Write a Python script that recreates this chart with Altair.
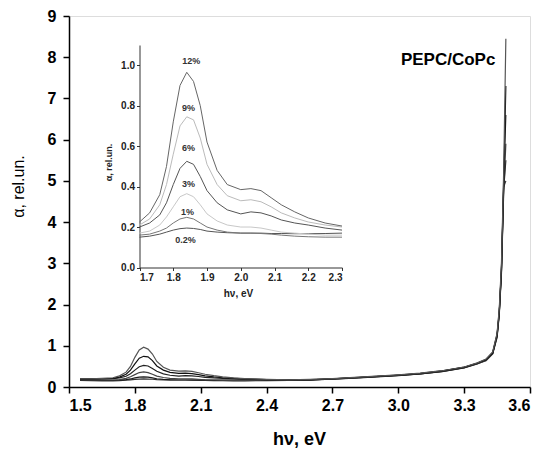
import altair as alt
import pandas as pd

SERIES = ["0.2%", "1%", "3%", "6%", "9%", "12%"]

X = [1.55, 1.60, 1.65, 1.70, 1.73, 1.76, 1.78, 1.80, 1.82, 1.84, 1.86, 1.88, 1.90,
     1.93, 1.96, 2.00, 2.03, 2.06, 2.09, 2.12, 2.16, 2.20, 2.25, 2.30, 2.40, 2.50,
     2.60, 2.70, 2.80, 2.90, 3.00, 3.10, 3.20, 3.30, 3.36, 3.40, 3.43, 3.45, 3.46,
     3.47, 3.48, 3.49]

Y_12 = [0.20, 0.20, 0.21, 0.225, 0.27, 0.36, 0.50, 0.72, 0.90, 0.965, 0.92, 0.80, 0.62,
        0.48, 0.41, 0.385, 0.39, 0.38, 0.345, 0.31, 0.275, 0.245, 0.22, 0.205, 0.185, 0.175,
        0.185, 0.205, 0.235, 0.265, 0.295, 0.335, 0.395, 0.485, 0.585, 0.68, 0.85, 1.30, 1.90,
        3.00, 5.20, 8.45]
Y_9 = [0.20, 0.20, 0.20, 0.21, 0.24, 0.31, 0.41, 0.56, 0.70, 0.745, 0.73, 0.64, 0.51,
       0.41, 0.355, 0.33, 0.335, 0.325, 0.30, 0.27, 0.245, 0.225, 0.21, 0.20, 0.18, 0.17,
       0.18, 0.20, 0.23, 0.26, 0.29, 0.33, 0.39, 0.48, 0.58, 0.66, 0.82, 1.25, 1.80,
       2.85, 4.90, 7.30]
Y_6 = [0.19, 0.19, 0.195, 0.20, 0.22, 0.26, 0.32, 0.41, 0.49, 0.525, 0.51, 0.45, 0.38,
       0.32, 0.285, 0.265, 0.275, 0.27, 0.255, 0.235, 0.22, 0.21, 0.195, 0.185, 0.17, 0.165,
       0.175, 0.195, 0.225, 0.255, 0.285, 0.325, 0.385, 0.475, 0.575, 0.67, 0.84, 1.28, 1.85,
       2.90, 5.00, 6.60]
Y_3 = [0.18, 0.175, 0.17, 0.17, 0.18, 0.21, 0.25, 0.30, 0.35, 0.365, 0.35, 0.31, 0.265,
       0.23, 0.21, 0.20, 0.20, 0.195, 0.185, 0.175, 0.17, 0.165, 0.16, 0.16, 0.16, 0.16,
       0.17, 0.19, 0.22, 0.25, 0.28, 0.32, 0.38, 0.47, 0.565, 0.64, 0.80, 1.20, 1.75,
       2.75, 4.70, 5.90]
Y_1 = [0.17, 0.165, 0.16, 0.16, 0.165, 0.18, 0.195, 0.22, 0.24, 0.248, 0.24, 0.22, 0.20,
       0.185, 0.175, 0.17, 0.17, 0.168, 0.165, 0.16, 0.155, 0.152, 0.15, 0.15, 0.155, 0.16,
       0.17, 0.19, 0.215, 0.245, 0.275, 0.315, 0.375, 0.465, 0.56, 0.65, 0.81, 1.22, 1.78,
       2.80, 4.80, 5.50]
Y_02 = [0.16, 0.155, 0.15, 0.15, 0.155, 0.165, 0.175, 0.185, 0.192, 0.195, 0.193, 0.188, 0.18,
        0.175, 0.172, 0.17, 0.17, 0.17, 0.168, 0.168, 0.167, 0.167, 0.168, 0.17, 0.165, 0.165,
        0.175, 0.195, 0.22, 0.25, 0.28, 0.32, 0.38, 0.47, 0.57, 0.65, 0.82, 1.24, 1.80,
        2.82, 4.85, 5.00]

VALUES = [Y_02, Y_1, Y_3, Y_6, Y_9, Y_12]

MAIN_COLORS = ["#333333", "#1a1a1a", "#444444", "#222222", "#111111", "#555555"]
INSET_COLORS = ["#555555", "#777777", "#c8c8c8", "#555555", "#bbbbbb", "#666666"]

# inset percent labels (inset data coordinates)
LABEL_TEXT = ["12%", "9%", "6%", "3%", "1%", "0.2%"]
LABEL_X = [1.853, 1.845, 1.845, 1.845, 1.842, 1.836]
LABEL_Y = [1.02, 0.79, 0.59, 0.415, 0.274, 0.136]

MAIN_XTICKS = [1.5, 1.65, 1.8, 1.95, 2.1, 2.25, 2.4, 2.55, 2.7, 2.85, 3.0, 3.15, 3.3, 3.45, 3.6]
MAIN_YTICKS = [0, 0.5, 1, 1.5, 2, 2.5, 3, 3.5, 4, 4.5, 5, 5.5, 6, 6.5, 7, 7.5, 8, 8.5, 9]
INSET_XTICKS = [1.7, 1.75, 1.8, 1.85, 1.9, 1.95, 2.0, 2.05, 2.1, 2.15, 2.2, 2.25, 2.3]
INSET_YTICKS = [0.0, 0.1, 0.2, 0.3, 0.4, 0.5, 0.6, 0.7, 0.8, 0.9, 1.0, 1.1]

TITLE_TEXT = ["PEPC/CoPc"]
TITLE_X = [3.227]
TITLE_Y = [7.93]

rows = []
for s, ys in zip(SERIES, VALUES):
    for x, y in zip(X, ys):
        rows.append({"x": x, "y": y, "series": s})
df = pd.DataFrame(rows)
df_inset = df[(df["x"] >= 1.7) & (df["x"] <= 2.3)]
df_labels = pd.DataFrame({"x": LABEL_X, "y": LABEL_Y, "label": LABEL_TEXT})
df_title = pd.DataFrame({"x": TITLE_X, "y": TITLE_Y, "label": TITLE_TEXT})

FONT = "Liberation Sans"

main_x = alt.X("x:Q", scale=alt.Scale(domain=[1.5, 3.6], nice=False, zero=False),
               axis=alt.Axis(values=MAIN_XTICKS, orient="bottom",
                             labelExpr="round(datum.value*100) % 30 == 0 ? format(datum.value, '.1f') : ''",
                             tickSize={"condition": {"test": "round(datum.value*100) % 30 != 0", "value": 3}, "value": 6},
                             tickColor="black", tickWidth=1.5, domainColor="black", domainWidth=1.5,
                             labelFont=FONT, labelFontSize=16, labelFontWeight="bold", labelColor="black",
                             labelPadding=4, grid=False,
                             title="hν, eV", titleFont=FONT, titleFontSize=18, titleFontWeight="bold",
                             titleColor="black", titleX=230, titleY=52, titleBaseline="middle"))
main_y = alt.Y("y:Q", scale=alt.Scale(domain=[0, 9], nice=False),
               axis=alt.Axis(values=MAIN_YTICKS, orient="left",
                             labelExpr="datum.value % 1 == 0 ? format(datum.value, 'd') : ''",
                             tickSize={"condition": {"test": "datum.value % 1 != 0", "value": 3}, "value": 6},
                             tickColor="black", tickWidth=1.5, domainColor="black", domainWidth=1.5,
                             labelFont=FONT, labelFontSize=16, labelFontWeight="bold", labelColor="black",
                             labelPadding=7, grid=False,
                             title="α, rel.un.", titleFont=FONT, titleFontSize=16, titleFontWeight="normal",
                             titleColor="black", titleX=-51, titleY=170, titleBaseline="middle"))

main_lines = alt.Chart(df).mark_line(strokeWidth=1.2).encode(
    x=main_x, y=main_y,
    color=alt.Color("series:N", scale=alt.Scale(domain=SERIES, range=MAIN_COLORS), legend=None),
)
title_text = alt.Chart(df_title).mark_text(font=FONT, fontSize=17, fontWeight="bold", color="black").encode(
    x="x:Q", y="y:Q", text="label:N")
main_layer = alt.layer(main_lines, title_text)

inset_x = alt.X("x:Q", scale=alt.Scale(domain=[1.7, 2.3], range=[70.5, 273], nice=False, zero=False),
                axis=alt.Axis(values=INSET_XTICKS, orient="bottom", offset=-119.5,
                              labelExpr="round(datum.value*100) % 10 == 0 ? format(datum.value, '.1f') : ''",
                              tickSize={"condition": {"test": "round(datum.value*100) % 10 != 0", "value": 2}, "value": 3},
                              tickColor="#333333", domainColor="#333333",
                              labelFont=FONT, labelFontSize=10, labelFontWeight="bold", labelColor="#222222",
                              labelPadding=2, grid=False,
                              title="hν, eV", titleFont=FONT, titleFontSize=10, titleFontWeight="bold",
                              titleColor="#222222", titleX=169, titleY=26, titleBaseline="middle"))
inset_y = alt.Y("y:Q", scale=alt.Scale(domain=[0, 1.1], range=[251.5, 29], nice=False),
                axis=alt.Axis(values=INSET_YTICKS, orient="left", offset=-70.5,
                              labelExpr="round(datum.value*10) % 2 == 0 && datum.value < 1.05 ? format(datum.value, '.1f') : ''",
                              tickSize={"condition": {"test": "round(datum.value*10) % 2 != 0", "value": 2}, "value": 3},
                              tickColor="#333333", domainColor="#333333",
                              labelFont=FONT, labelFontSize=10, labelFontWeight="bold", labelColor="#222222",
                              labelPadding=2, grid=False,
                              title="α, rel.un.", titleFont=FONT, titleFontSize=9, titleFontWeight="bold",
                              titleColor="#222222", titleX=-31.5, titleY=146, titleBaseline="middle"))

inset_lines = alt.Chart(df_inset).mark_line(strokeWidth=1).encode(
    x=inset_x, y=inset_y,
    color=alt.Color("series:N", scale=alt.Scale(domain=SERIES, range=INSET_COLORS), legend=None),
)
inset_text = alt.Chart(df_labels).mark_text(font=FONT, fontSize=9, fontWeight="bold", color="#333333").encode(
    x="x:Q", y="y:Q", text="label:N")
inset_layer = alt.layer(inset_lines, inset_text)

chart = alt.layer(main_layer, inset_layer).resolve_scale(
    x="independent", y="independent", color="independent"
).properties(
    width=461, height=371,
    autosize=alt.AutoSizeParams(type="none"),
    padding={"left": 61, "top": 8, "right": 5, "bottom": 66},
).configure_view(stroke=None).configure(background="white")

chart.save("out.html", embed_options={"renderer": "svg", "actions": False})
